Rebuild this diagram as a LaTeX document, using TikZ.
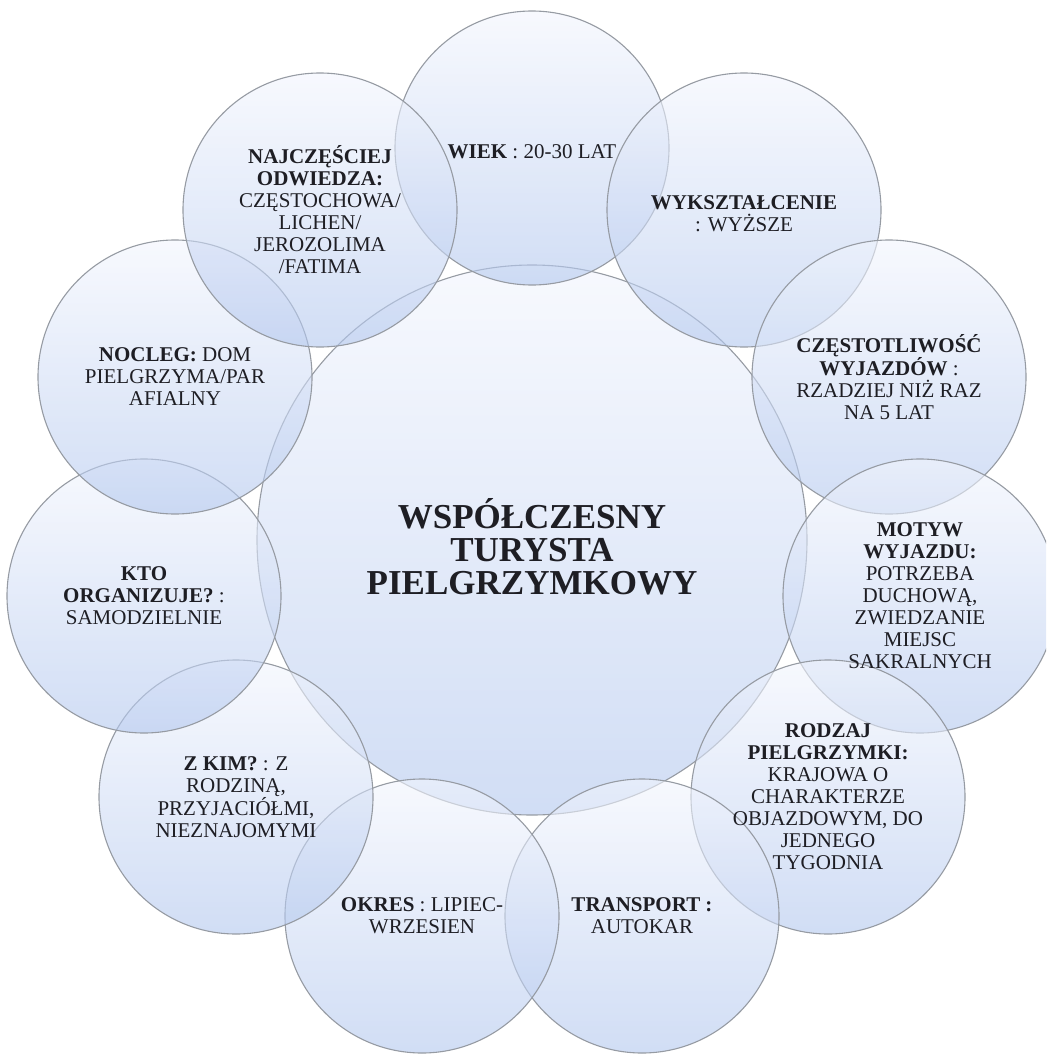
\documentclass[tikz,border=0pt]{standalone}
\usepackage{fontspec}
\setmainfont{Liberation Serif}
\definecolor{bubline}{HTML}{969BA3}
\definecolor{bubtop}{HTML}{F2F5FD}
\definecolor{bubmid}{HTML}{DCE5F8}
\definecolor{bubbot}{HTML}{B2C7EE}
\definecolor{txt}{HTML}{1E1E24}
\begin{document}
\begin{tikzpicture}[x=1pt,y=-1pt,
  bub/.style={circle, draw=bubline, line width=1.1pt, top color=bubtop, middle color=bubmid, bottom color=bubbot, fill opacity=0.6, minimum size=274pt, inner sep=0pt},
  hub/.style={bub, minimum size=550pt},
  lab/.style={align=center, font=\fontsize{21}{22}\selectfont, text=txt, inner sep=0pt},
  hubtxt/.style={align=center, font=\fontsize{35}{33}\selectfont\bfseries, text=txt, inner sep=0pt}]
\useasboundingbox (0,0) rectangle (1046,1054);
\clip (0,0) rectangle (1046,1054);
% circles
\node[hub] (hub) at (532,540) {};
\node[bub] (c0) at (532,148) {};
\node[bub] (c1) at (744,210) {};
\node[bub] (c2) at (889,377) {};
\node[bub] (c3) at (920,596) {};
\node[bub] (c4) at (828,797) {};
\node[bub] (c5) at (642,916) {};
\node[bub] (c6) at (422,916) {};
\node[bub] (c7) at (236,797) {};
\node[bub] (c8) at (144,596) {};
\node[bub] (c9) at (175,377) {};
\node[bub] (c10) at (320,210) {};
% texts
\node[hubtxt] (thub) at ([yshift=-7pt]hub.center) {WSPÓŁCZESNY\\TURYSTA\\PIELGRZYMKOWY};
\node[lab] (t0) at ([yshift=-4pt]c0.center) {\textbf{WIEK} : 20-30 LAT};
\node[lab] (t1) at ([yshift=-4pt]c1.center) {\textbf{WYKSZTAŁCENIE}\\: WYŻSZE};
\node[lab] (t2) at (c2.center) {\textbf{CZĘSTOTLIWOŚĆ}\\\textbf{WYJAZDÓW} :\\RZADZIEJ NIŻ RAZ\\NA 5 LAT};
\node[lab] (t3) at (c3.center) {\textbf{MOTYW}\\\textbf{WYJAZDU:}\\POTRZEBA\\DUCHOWĄ,\\ZWIEDZANIE\\MIEJSC\\SAKRALNYCH};
\node[lab] (t4) at (c4.center) {\textbf{RODZAJ}\\\textbf{PIELGRZYMKI:}\\KRAJOWA O\\CHARAKTERZE\\OBJAZDOWYM, DO\\JEDNEGO\\TYGODNIA};
\node[lab] (t5) at (c5.center) {\textbf{TRANSPORT :}\\AUTOKAR};
\node[lab] (t6) at (c6.center) {\textbf{OKRES} : LIPIEC-\\WRZESIEN};
\node[lab] (t7) at (c7.center) {\textbf{Z KIM?} : Z\\RODZINĄ,\\PRZYJACIÓŁMI,\\NIEZNAJOMYMI};
\node[lab] (t8) at (c8.center) {\textbf{KTO}\\\textbf{ORGANIZUJE?} :\\SAMODZIELNIE};
\node[lab] (t9) at (c9.center) {\textbf{NOCLEG:} DOM\\PIELGRZYMA/PAR\\AFIALNY};
\node[lab] (t10) at (c10.center) {\textbf{NAJCZĘŚCIEJ}\\\textbf{ODWIEDZA:}\\CZĘSTOCHOWA/\\LICHEN/\\JEROZOLIMA\\/FATIMA};
\end{tikzpicture}
\end{document}
